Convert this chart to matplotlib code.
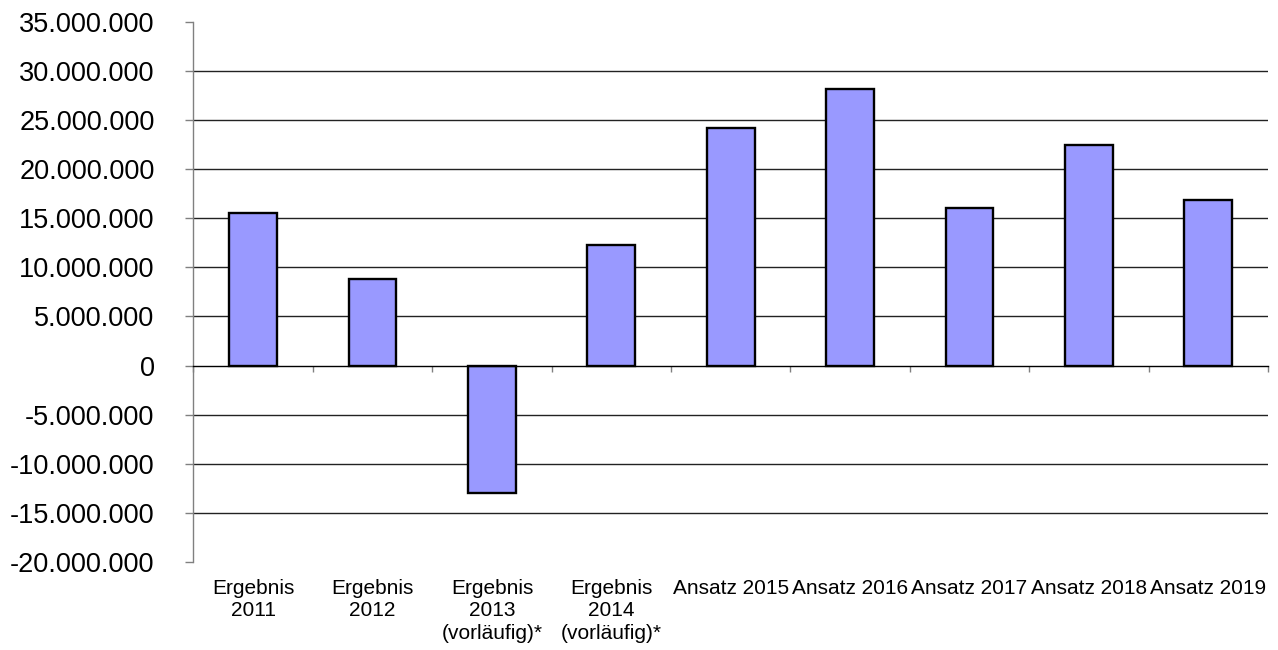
import matplotlib
matplotlib.use("Agg")
import matplotlib.pyplot as plt
from matplotlib.ticker import FuncFormatter, FixedLocator

categories = ["Ergebnis\n2011", "Ergebnis\n2012", "Ergebnis\n2013\n(vorläufig)*",
              "Ergebnis\n2014\n(vorläufig)*", "Ansatz 2015", "Ansatz 2016",
              "Ansatz 2017", "Ansatz 2018", "Ansatz 2019"]
values = [15_500_000, 8_800_000, -13_000_000, 12_300_000, 24_200_000,
          28_200_000, 16_000_000, 22_400_000, 16_800_000]
y_ticks = [-20_000_000, -15_000_000, -10_000_000, -5_000_000, 0, 5_000_000,
           10_000_000, 15_000_000, 20_000_000, 25_000_000, 30_000_000, 35_000_000]

plt.rcParams['font.family'] = ['Liberation Sans', 'DejaVu Sans']

fig = plt.figure(figsize=(12.78, 6.5), dpi=100)
ax = fig.add_axes([0.1514, 0.1354, 0.9922 - 0.1514, 0.9666 - 0.1354])

x = list(range(len(categories)))
ax.set_xlim(-0.5, len(categories) - 0.5)
ax.set_ylim(y_ticks[0], y_ticks[-1])

# gridlines (not at the extreme limits)
for v in y_ticks[1:-1]:
    if v != 0:
        ax.axhline(v, color='#222222', lw=1.0, zorder=0)

ax.bar(x, values, width=0.4, color='#9999FF', edgecolor='black', linewidth=1.7, zorder=2)

# spines
for s in ['top', 'right']:
    ax.spines[s].set_visible(False)
ax.spines['left'].set_color('#808080')
ax.spines['left'].set_linewidth(1.0)
ax.spines['bottom'].set_position(('data', 0))
ax.spines['bottom'].set_color('black')
ax.spines['bottom'].set_linewidth(1.0)
ax.spines['bottom'].set_zorder(3)

ax.yaxis.set_major_locator(FixedLocator(y_ticks))
ax.yaxis.set_major_formatter(FuncFormatter(lambda v, p: f"{v:,.0f}".replace(',', '.')))
ax.tick_params(axis='y', direction='out', length=6, width=1, color='#808080',
               labelsize=19.5, pad=22)

ax.xaxis.set_major_locator(FixedLocator([i - 0.5 for i in range(len(categories) + 1)]))
ax.tick_params(axis='x', direction='out', length=4, width=1, color='#808080',
               labelbottom=False)

for i, lab in enumerate(categories):
    ax.annotate(lab, xy=(i, 0), xycoords=('data', 'axes fraction'),
                xytext=(0, -12), textcoords='offset points',
                ha='center', va='top', fontsize=15, linespacing=1.25)

fig.savefig("out.png", dpi=100)
